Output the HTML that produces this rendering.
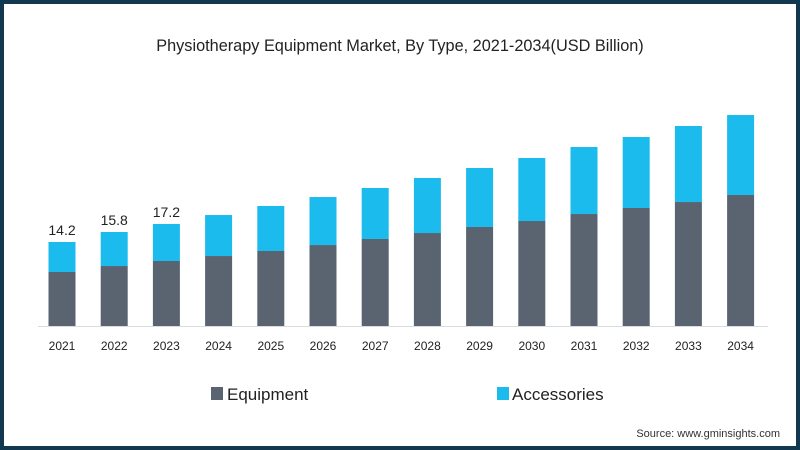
<!DOCTYPE html>
<html><head><meta charset="utf-8"><style>
html,body{margin:0;padding:0;background:#fff}
#frame{position:absolute;left:0;top:0;width:800px;height:450px;box-sizing:border-box;border:4px solid #12384f;background:#fff}
text{font-family:"Liberation Sans",sans-serif}
</style></head><body>
<div id="frame"></div>
<svg id="chart" width="800" height="450" style="position:absolute;left:0;top:0">
<text x="400" y="51" text-anchor="middle" font-size="16.3" fill="#222">Physiotherapy Equipment Market, By Type, 2021-2034(USD Billion)</text>
<line x1="38" y1="326.5" x2="768" y2="326.5" stroke="#d8dde2" stroke-width="1"/>
<g id="bars"></g>
<rect x="211" y="387" width="12" height="13" fill="#5a6470"/>
<text x="227" y="400" font-size="17" fill="#222">Equipment</text>
<rect x="497" y="387" width="12" height="13" fill="#1bbbee"/>
<text x="512" y="400" font-size="17" fill="#222">Accessories</text>
<text x="780" y="437" text-anchor="end" font-size="11" fill="#333">Source: www.gminsights.com</text>
</svg>
<script>
const categories = ["2021","2022","2023","2024","2025","2026","2027","2028","2029","2030","2031","2032","2033","2034"];
const equipment = [9.13,10.14,10.99,11.83,12.68,13.69,14.71,15.72,16.74,17.75,18.93,19.95,20.96,22.15];
const accessories = [5.07,5.75,6.26,6.93,7.61,8.11,8.62,9.30,9.97,10.65,11.33,12.00,12.85,13.52];
const totalLabels = ["14.2","15.8","17.2","","","","","","","","","","",""];

const baseY = 326, pxPerUnit = 5.915, x0 = 62, step = 52.2, bw = 27;
const xPos = i => x0 + i * step;
const yScale = v => baseY - v * pxPerUnit;
const g = document.getElementById('bars');
const NS = 'http://www.w3.org/2000/svg';
categories.forEach((c, i) => {
  const cx = xPos(i);
  const e = equipment[i], a = accessories[i];
  const r1 = document.createElementNS(NS, 'rect');
  r1.setAttribute('x', cx - bw/2); r1.setAttribute('y', yScale(e));
  r1.setAttribute('width', bw); r1.setAttribute('height', baseY - yScale(e));
  r1.setAttribute('fill', '#5a6470');
  
  
  g.appendChild(r1);
  const r2 = document.createElementNS(NS, 'rect');
  r2.setAttribute('x', cx - bw/2); r2.setAttribute('y', yScale(e + a));
  r2.setAttribute('width', bw); r2.setAttribute('height', yScale(e) - yScale(e + a));
  r2.setAttribute('fill', '#1bbbee');
  
  
  g.appendChild(r2);
  const t = document.createElementNS(NS, 'text');
  t.setAttribute('x', cx); t.setAttribute('y', 350);
  t.setAttribute('text-anchor', 'middle'); t.setAttribute('font-size', '12'); t.setAttribute('fill', '#222');
  t.textContent = c;
  
  
  g.appendChild(t);
  if (totalLabels[i]) {
    const v = document.createElementNS(NS, 'text');
    v.setAttribute('x', cx); v.setAttribute('y', yScale(e + a) - 7);
    v.setAttribute('text-anchor', 'middle'); v.setAttribute('font-size', '14'); v.setAttribute('fill', '#222');
    v.textContent = totalLabels[i];
    
    
    g.appendChild(v);
  }
});
</script>
</body></html>
